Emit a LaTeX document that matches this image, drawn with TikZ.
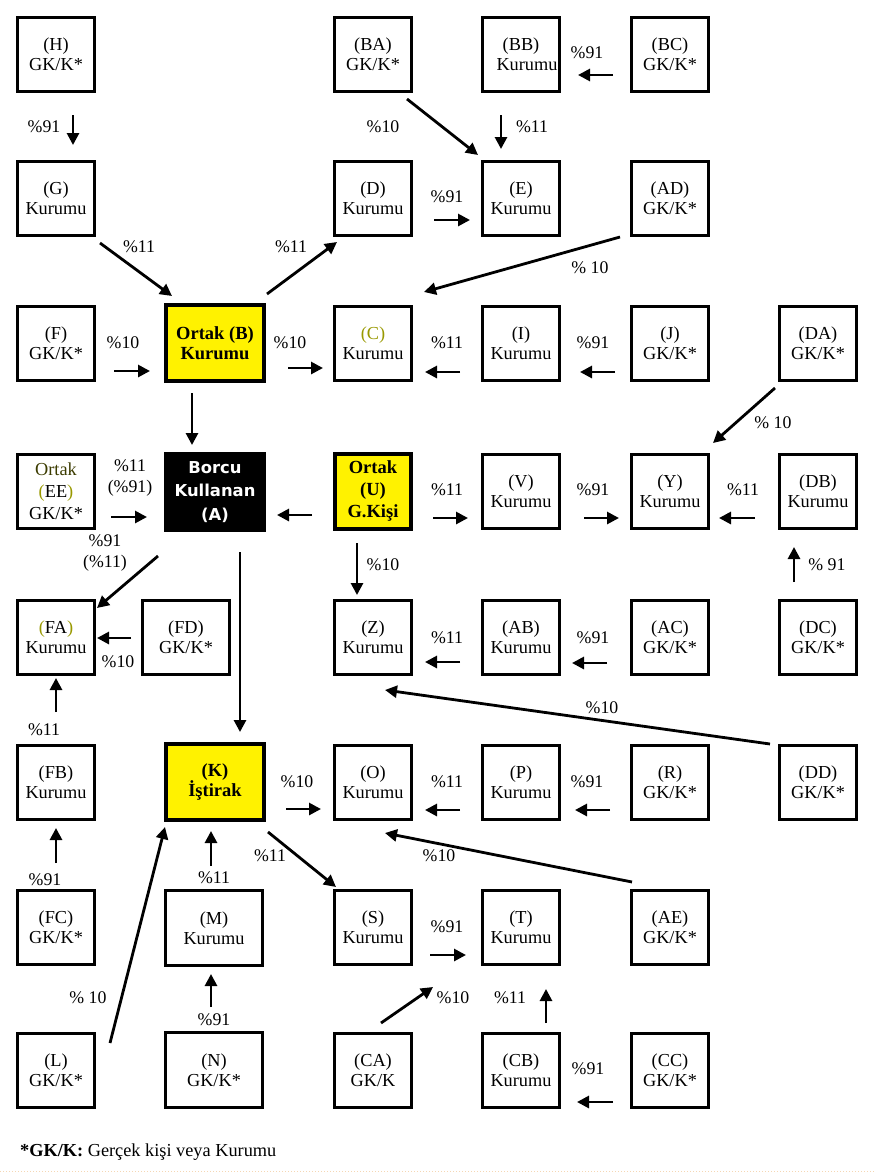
\documentclass[tikz,border=0pt]{standalone}
\usepackage{fontspec}
\setmainfont{Liberation Serif}
\newfontfamily\dvsans{DejaVu Sans}
\usetikzlibrary{arrows.meta}
\definecolor{olivetxt}{RGB}{153,153,0}
\definecolor{darkolive}{RGB}{60,60,0}
\definecolor{dotline}{RGB}{245,215,180}
\begin{document}
\begin{tikzpicture}[x=1pt,y=-1pt,
  box/.style={draw, line width=3pt, minimum width=77pt, minimum height=74pt, inner sep=0pt, align=center, font=\fontsize{18.3}{20}\selectfont},
  wbox/.style={box, line width=4pt, minimum width=98pt, minimum height=76pt},
  hl/.style={wbox, fill=yellow, font=\fontsize{18.5}{20}\selectfont\bfseries},
  mbox/.style={box, minimum width=97pt, minimum height=75pt},
  arr/.style={line width=2.8pt, -{Triangle[length=12pt,width=12pt]}},
  lbl/.style={font=\fontsize{17.8}{21}\selectfont, inner sep=0pt, align=center},
]
\path[use as bounding box] (0,0) rectangle (874,1175);
\fill[white] (0,0) rectangle (874,1175);

% row 1
\node[box] (H) at (56,54.5) {(H)\\GK/K*};
\node[box] (BA) at (373,54.5) {(BA)\\GK/K*};
\node[box] (BB) at (521,54.5) {(BB)\\\hspace*{12pt}Kurumu};
\node[box] (BC) at (670,54.5) {(BC)\\GK/K*};
% row 2
\node[box] (G) at (56,198.5) {(G)\\Kurumu};
\node[box] (D) at (373,198.5) {(D)\\Kurumu};
\node[box] (E) at (521,198.5) {(E)\\Kurumu};
\node[box] (AD) at (670,198.5) {(AD)\\GK/K*};
% row 3
\node[box] (F) at (56,343) {(F)\\GK/K*};
\node[hl] (B) at (215,343) {Ortak (B)\\Kurumu};
\node[box] (C) at (373,343) {\textcolor{olivetxt}{(C)}\\Kurumu};
\node[box] (I) at (521,343) {(I)\\Kurumu};
\node[box] (J) at (670,343) {(J)\\GK/K*};
\node[box] (DA) at (818,343) {(DA)\\GK/K*};
% row 4
\node[box, font=\fontsize{18.3}{22}\selectfont] (EE) at (56,491) {\textcolor{darkolive}{Ortak}\\\textcolor{olivetxt}{(}EE\textcolor{olivetxt}{)}\\GK/K*};
\node[wbox, fill=black, text=white, font={\dvsans\bfseries\fontsize{16.4}{23.5}\selectfont}] (A) at (215,492) {Borcu\\Kullanan\\(A)};
\node[hl, minimum width=76pt, minimum height=75pt, font=\fontsize{18.5}{22}\selectfont\bfseries] (U) at (373,491) {Ortak\\(U)\\G.Kişi};
\node[box] (V) at (521,491) {(V)\\Kurumu};
\node[box] (Y) at (670,491) {(Y)\\Kurumu};
\node[box] (DB) at (818,491) {(DB)\\Kurumu};
% row 5
\node[box] (FA) at (56,637.5) {\textcolor{olivetxt}{(}FA\textcolor{olivetxt}{)}\\Kurumu};
\node[box, minimum width=87pt] (FD) at (186,637.5) {(FD)\\GK/K*};
\node[box] (Z) at (373,637.5) {(Z)\\Kurumu};
\node[box] (AB) at (521,637.5) {(AB)\\Kurumu};
\node[box] (AC) at (670,637.5) {(AC)\\GK/K*};
\node[box] (DC) at (818,637.5) {(DC)\\GK/K*};
% row 6
\node[box] (FB) at (56,782) {(FB)\\Kurumu};
\node[hl] (K) at (215,782) {(K)\\İştirak};
\node[box] (O) at (373,782) {(O)\\Kurumu};
\node[box] (P) at (521,782) {(P)\\Kurumu};
\node[box] (R) at (670,782) {(R)\\GK/K*};
\node[box] (DD) at (818,782) {(DD)\\GK/K*};
% row 7
\node[box] (FC) at (56,927.5) {(FC)\\GK/K*};
\node[mbox] (M) at (214,928) {(M)\\Kurumu};
\node[box] (S) at (373,927.5) {(S)\\Kurumu};
\node[box] (T) at (521,927.5) {(T)\\Kurumu};
\node[box] (AE) at (670,927.5) {(AE)\\GK/K*};
% row 8
\node[box] (L) at (56,1070) {(L)\\GK/K*};
\node[mbox] (N) at (214,1070) {(N)\\GK/K*};
\node[box] (CA) at (373,1070) {(CA)\\GK/K};
\node[box] (CB) at (521,1070) {(CB)\\Kurumu};
\node[box] (CC) at (670,1070) {(CC)\\GK/K*};

% arrows
\draw[arr] ([shift={(17,22)}]H.south) -- ([shift={(17,-15)}]G.north);
\draw[arr] ([shift={(4,6)}]G.south east) -- ([shift={(8,-7)}]B.north west);
\draw[arr] ([shift={(1,-9)}]B.north east) -- ([shift={(4,5)}]D.south west);
\draw[arr] ([shift={(-6,6)}]BA.south east) -- ([shift={(-3,-5)}]E.north west);
\draw[arr] ([shift={(-20,22)}]BB.south) -- ([shift={(-20,-11)}]E.north);
\draw[arr] ([shift={(-17,20.5)}]BC.west) -- ([shift={(17,20.5)}]BB.east);
\draw[arr] ([shift={(21,21.5)}]D.east) -- ([shift={(-11,21.5)}]E.west);
\draw[arr] ([shift={(-10,0)}]AD.south west) -- ([shift={(11,-12.5)}]C.north east);
\draw[arr] ([shift={(18,28)}]F.east) -- ([shift={(-14,28)}]B.west);
\draw[arr] ([shift={(22,25)}]B.east) -- ([shift={(-10,25)}]C.west);
\draw[arr] ([shift={(-21,29)}]I.west) -- ([shift={(12,29)}]C.east);
\draw[arr] ([shift={(-15,29)}]J.west) -- ([shift={(19,29)}]I.east);
\draw[arr] ([shift={(-3,6.5)}]DA.south west) -- ([shift={(3,-9.5)}]Y.north east);
\draw[arr] ([shift={(-23,10)}]B.south) -- ([shift={(-23,-7)}]A.north);
\draw[arr] ([shift={(15,26)}]EE.east) -- ([shift={(-17,25)}]A.west);
\draw[arr] ([shift={(-21,24)}]U.west) -- ([shift={(11,23)}]A.east);
\draw[arr] ([shift={(20,27)}]U.east) -- ([shift={(-13,27)}]V.west);
\draw[arr] ([shift={(23,27)}]V.east) -- ([shift={(-11,27)}]Y.west);
\draw[arr] ([shift={(-23,27)}]DB.west) -- ([shift={(9,27)}]Y.east);
\draw[arr] ([shift={(-24,-17)}]DC.north) -- ([shift={(-24,17.5)}]DB.south);
\draw[arr] ([shift={(-6,24)}]A.south west) -- ([shift={(1,9)}]FA.north east);
\draw[arr] ([shift={(25,20)}]A.south) -- ([shift={(25,-10)}]K.north);
\draw[arr] ([shift={(-16,12.5)}]U.south) -- ([shift={(-16,-4)}]Z.north);
\draw[arr] ([shift={(-10,0.5)}]FD.west) -- ([shift={(1,0.5)}]FA.east);
\draw[arr] ([shift={(-21,24.5)}]AB.west) -- ([shift={(12,24.5)}]Z.east);
\draw[arr] ([shift={(-23,25.5)}]AC.west) -- ([shift={(11,25.5)}]AB.east);
\draw[arr] ([shift={(-8,0.5)}]DD.north west) -- ([shift={(-28,14)}]Z.south east);
\draw[arr] ([shift={(0,-31.5)}]FB.north) -- ([shift={(0,2)}]FA.south);
\draw[arr] ([shift={(20,27)}]K.east) -- ([shift={(-12,27)}]O.west);
\draw[arr] ([shift={(-21,28)}]P.west) -- ([shift={(12,28)}]O.east);
\draw[arr] ([shift={(-20,28)}]R.west) -- ([shift={(14,28)}]P.east);
\draw[arr] ([shift={(2,-7)}]AE.north west) -- ([shift={(-28,12.5)}]O.south east);
\draw[arr] ([shift={(0,-26)}]FC.north) -- ([shift={(0,7.5)}]FB.south);
\draw[arr] ([shift={(14,11.5)}]L.north east) -- ([shift={(1,5)}]K.south west);
\draw[arr] ([shift={(-3,-23)}]M.north) -- ([shift={(-4,9)}]K.south);
\draw[arr] ([shift={(2,10)}]K.south east) -- ([shift={(3,-2)}]S.north west);
\draw[arr] ([shift={(17,27.5)}]S.east) -- ([shift={(-15,27.5)}]T.west);
\draw[arr] ([shift={(-3,-24)}]N.north) -- ([shift={(-3,7)}]M.south);
\draw[arr] ([shift={(8,-8.5)}]CA.north) -- ([shift={(-48,21)}]T.south west);
\draw[arr] ([shift={(25,-8.5)}]CB.north) -- ([shift={(25,23)}]T.south);
\draw[arr] ([shift={(-17,32)}]CC.west) -- ([shift={(16,32)}]CB.east);

% labels
\node[lbl] (l1) at (44,127) {\%91};
\node[lbl] (l2) at (139,247) {\%11};
\node[lbl] (l3) at (291,247) {\%11};
\node[lbl] (l4) at (383,127) {\%10};
\node[lbl] (l5) at (532,127) {\%11};
\node[lbl] (l6) at (587,53) {\%91};
\node[lbl] (l7) at (447,197) {\%91};
\node[lbl] (l8) at (590,268) {\% 10};
\node[lbl] (l9) at (123,343) {\%10};
\node[lbl] (l10) at (290,343) {\%10};
\node[lbl] (l11) at (447,343) {\%11};
\node[lbl] (l12) at (593,343) {\%91};
\node[lbl] (l13) at (773,423) {\% 10};
\node[lbl] (l15) at (130,478) {\%11\\(\%91)};
\node[lbl] (l17) at (447,490) {\%11};
\node[lbl] (l18) at (593,490) {\%91};
\node[lbl] (l19) at (743,490) {\%11};
\node[lbl] (l20) at (827,565) {\% 91};
\node[lbl] (l21) at (105,553) {\%91\\(\%11)};
\node[lbl] (l23) at (383,565) {\%10};
\node[lbl] (l24) at (118,662) {\%10};
\node[lbl] (l25) at (447,638) {\%11};
\node[lbl] (l26) at (593,638) {\%91};
\node[lbl] (l27) at (602,708) {\%10};
\node[lbl] (l28) at (44,730) {\%11};
\node[lbl] (l29) at (297,782) {\%10};
\node[lbl] (l30) at (447,782) {\%11};
\node[lbl] (l31) at (587,782) {\%91};
\node[lbl] (l32) at (439,856) {\%10};
\node[lbl] (l33) at (45,880) {\%91};
\node[lbl] (l34) at (88,998) {\% 10};
\node[lbl] (l35) at (214,878) {\%11};
\node[lbl] (l36) at (270,856) {\%11};
\node[lbl] (l37) at (447,927) {\%91};
\node[lbl] (l38) at (214,1020) {\%91};
\node[lbl] (l39) at (453,998) {\%10};
\node[lbl] (l40) at (510,998) {\%11};
\node[lbl] (l41) at (588,1069) {\%91};

% footnote
\node[anchor=west, inner sep=0pt, font=\fontsize{18.3}{20}\selectfont] (note) at (20,1152) {\textbf{*GK/K:} Gerçek kişi veya Kurumu};
\draw[dotline, dotted, line width=1pt] (0,1171) -- (874,1171);
\end{tikzpicture}
\end{document}
